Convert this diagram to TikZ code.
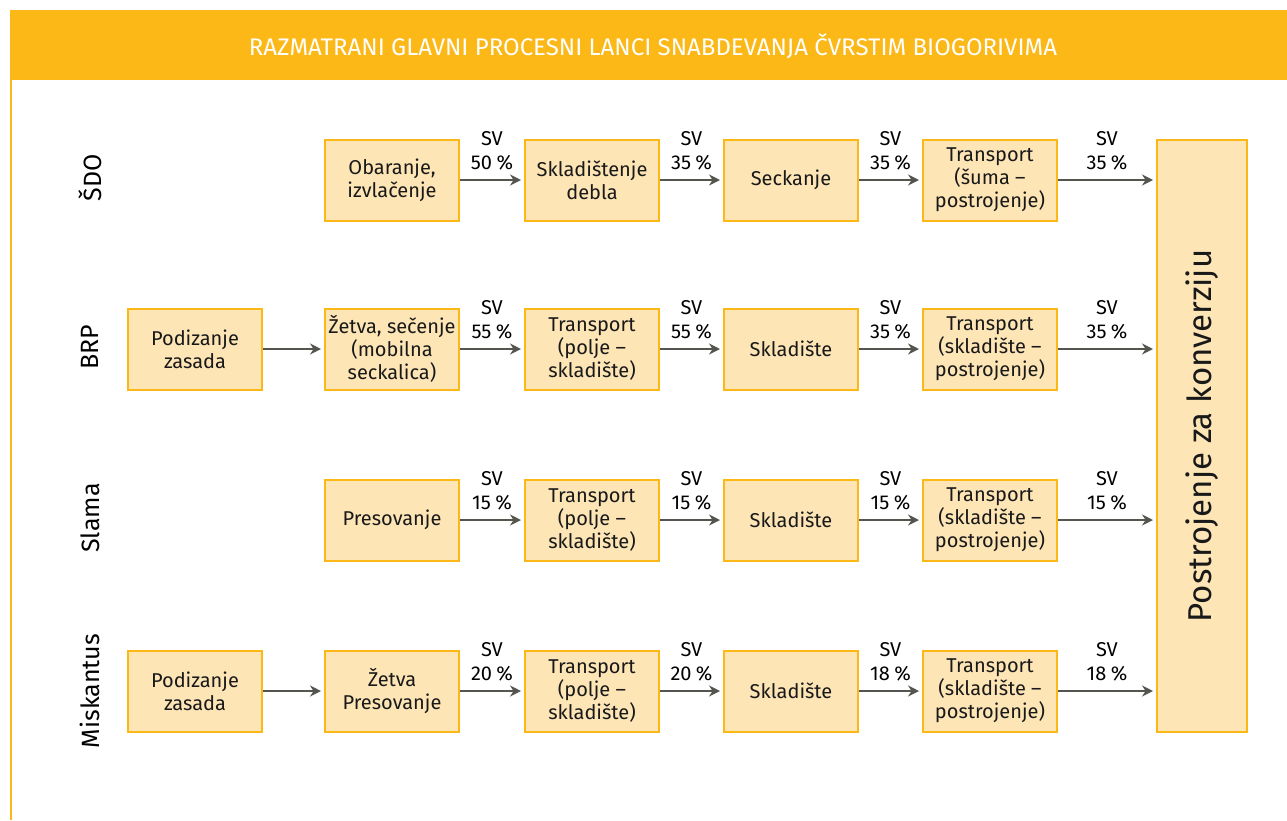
\documentclass[tikz,border=0pt]{standalone}
\usepackage{fontspec}
\setmainfont{Fira Sans}
\usetikzlibrary{arrows.meta}
\definecolor{hdr}{HTML}{FBB817}
\definecolor{boxfill}{HTML}{FDE5B6}
\definecolor{arr}{HTML}{55554F}
\tikzset{
  pbox/.style={draw=hdr, line width=2pt, fill=boxfill, minimum width=134pt, minimum height=81pt, inner sep=0pt, align=center, font=\fontsize{20}{23}\selectfont, text=black!90},
  flow/.style={draw=arr, line width=2.4pt, -{Stealth[length=11pt,width=11pt]}, shorten >=3pt},
  svlab/.style={font=\fontsize{20}{24}\selectfont, align=center, inner sep=0pt, anchor=south},
  rowlab/.style={font=\fontsize{25}{28}\selectfont, rotate=90, inner sep=0pt}
}
\begin{document}
\begin{tikzpicture}[x=1pt,y=-1pt]
\useasboundingbox (0,0) rectangle (1287,820);
\fill[white] (0,0) rectangle (1287,820);
\fill[hdr] (10,10) rectangle (1287,80);
\draw[hdr, line width=2pt] (11,80) -- (11,820);
\node[text=white, font=\fontsize{24}{27}\selectfont] (title) at (653,46) {RAZMATRANI GLAVNI PROCESNI LANCI SNABDEVANJA ČVRSTIM BIOGORIVIMA};

% row labels
\node[rowlab] (l1) at (90,178) {ŠDO};
\node[rowlab] (l2) at (90,347) {BRP};
\node[rowlab] (l3) at (90,518) {Slama};
\node[rowlab] (l4) at (90,691) {Miskantus};

% big box
\node[pbox, minimum width=90pt, minimum height=592pt] (big) at (1202,436) {};
\node[rotate=90, font=\fontsize{33}{36}\selectfont, text=black!90] (bigt) at (big.center) {Postrojenje za konverziju};

% row 1
\node[pbox] (a1) at (392,180) {Obaranje,\\izvlačenje};
\node[pbox] (a2) at (592,180) {Skladištenje\\debla};
\node[pbox] (a3) at (791,180) {Seckanje};
\node[pbox] (a4) at (990,180) {Transport\\(šuma –\\postrojenje)};
% row 2
\node[pbox] (b0) at (195,349) {Podizanje\\zasada};
\node[pbox] (b1) at (392,349) {Žetva, sečenje\\(mobilna\\seckalica)};
\node[pbox] (b2) at (592,349) {Transport\\(polje –\\skladište)};
\node[pbox] (b3) at (791,349) {Skladište};
\node[pbox] (b4) at (990,349) {Transport\\(skladište –\\postrojenje)};
% row 3
\node[pbox] (c1) at (392,520) {Presovanje};
\node[pbox] (c2) at (592,520) {Transport\\(polje –\\skladište)};
\node[pbox] (c3) at (791,520) {Skladište};
\node[pbox] (c4) at (990,520) {Transport\\(skladište –\\postrojenje)};
% row 4
\node[pbox] (d0) at (195,691) {Podizanje\\zasada};
\node[pbox] (d1) at (392,691) {Žetva\\Presovanje};
\node[pbox] (d2) at (592,691) {Transport\\(polje –\\skladište)};
\node[pbox] (d3) at (791,691) {Skladište};
\node[pbox] (d4) at (990,691) {Transport\\(skladište –\\postrojenje)};

% end coordinates on big box
\coordinate (e1) at (big.west |- a4.east);
\coordinate (e2) at (big.west |- b4.east);
\coordinate (e3) at (big.west |- c4.east);
\coordinate (e4) at (big.west |- d4.east);

\newcommand{\sv}[3]{%
  \draw[flow] (#1.east) -- node[svlab, yshift=9pt] {SV\\#3\hspace{0.22em}\%} (#2);}

\sv{a1}{a2.west}{50}
\sv{a2}{a3.west}{35}
\sv{a3}{a4.west}{35}
\sv{a4}{e1}{35}

\draw[flow] (b0.east) -- (b1.west);
\sv{b1}{b2.west}{55}
\sv{b2}{b3.west}{55}
\sv{b3}{b4.west}{35}
\sv{b4}{e2}{35}

\sv{c1}{c2.west}{15}
\sv{c2}{c3.west}{15}
\sv{c3}{c4.west}{15}
\sv{c4}{e3}{15}

\draw[flow] (d0.east) -- (d1.west);
\sv{d1}{d2.west}{20}
\sv{d2}{d3.west}{20}
\sv{d3}{d4.west}{18}
\sv{d4}{e4}{18}
\end{tikzpicture}
\end{document}
